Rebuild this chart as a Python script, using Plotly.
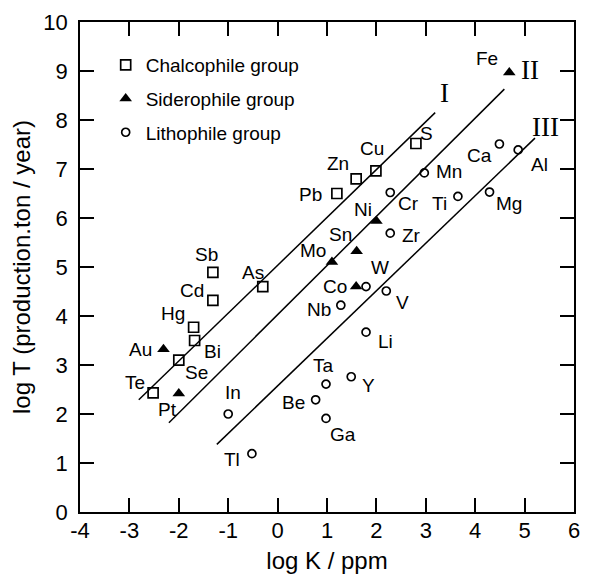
import plotly.graph_objects as go

# Chalcophile group
chalco_names = ["Te", "Se", "Bi", "Hg", "Cd", "Sb", "As", "Pb", "Zn", "Cu", "S"]
chalco_logK = [-2.52, -2.00, -1.68, -1.70, -1.31, -1.31, -0.30, 1.20, 1.59, 1.99, 2.80]
chalco_logT = [2.43, 3.10, 3.50, 3.77, 4.32, 4.89, 4.60, 6.50, 6.80, 6.96, 7.52]

# Siderophile group
sidero_names = ["Au", "Pt", "Mo", "Sn", "Ni", "Co", "Fe"]
sidero_logK = [-2.31, -2.00, 1.10, 1.60, 2.00, 1.59, 4.69]
sidero_logT = [3.32, 2.42, 5.10, 5.32, 5.94, 4.60, 8.97]

# Lithophile group
litho_names = ["Tl", "In", "Be", "Ga", "Ta", "Y", "Li", "Nb", "W", "V",
               "Zr", "Cr", "Mn", "Ti", "Ca", "Al", "Mg"]
litho_logK = [-0.52, -1.00, 0.77, 0.98, 0.98, 1.49, 1.79, 1.28, 1.79, 2.20,
              2.28, 2.28, 2.97, 3.65, 4.49, 4.87, 4.29]
litho_logT = [1.19, 2.00, 2.29, 1.91, 2.61, 2.76, 3.67, 4.22, 4.60, 4.51,
              5.69, 6.52, 6.92, 6.44, 7.51, 7.39, 6.53]

# Trend lines I, II, III (end points)
line_names = ["I", "II", "III"]
line_logK = [[-2.81, 3.19], [-2.20, 4.59], [-1.23, 5.21]]
line_logT = [[2.29, 8.15], [1.82, 8.63], [1.38, 7.63]]

# Tick values and their labels (plain hyphen as minus sign)
x_ticks = [-4, -3, -2, -1, 0, 1, 2, 3, 4, 5, 6]
x_tick_labels = ["-4", "-3", "-2", "-1", "0", "1", "2", "3", "4", "5", "6"]
y_ticks = [0, 1, 2, 3, 4, 5, 6, 7, 8, 9, 10]
y_tick_labels = ["0", "1", "2", "3", "4", "5", "6", "7", "8", "9", "10"]

# Pixel offsets of each element label from its marker
label_shift = {
    "Te": (-18, 10), "Se": (18, -12), "Bi": (18, -11), "Hg": (-21, 14),
    "Cd": (-21, 10), "Sb": (-6, 18), "As": (-10, 14), "Pb": (-26, -1),
    "Zn": (-18, 15), "Cu": (-4, 22), "S": (11, 10),
    "Au": (-23, 0), "Pt": (-11, -16), "Mo": (-19, 12), "Sn": (-16, 17),
    "Ni": (-13, 11), "Co": (-21, 0), "Fe": (-22, 14),
    "Tl": (-20, -6), "In": (5, 22), "Be": (-22, -3), "Ga": (17, -16),
    "Ta": (-3, 19), "Y": (17, -9), "Li": (19, -9), "Nb": (-22, -4),
    "W": (14, 19), "V": (16, -11), "Zr": (21, -2), "Cr": (18, -11),
    "Mn": (25, 1), "Ti": (-18, -7), "Ca": (-20, -11), "Al": (21, -15),
    "Mg": (19, -11),
}
# Pixel offsets of the roman numerals from the upper end of each line
numeral_shift = {"I": (9, 20), "II": (26, 19), "III": (11, 11)}

SANS = "Liberation Sans, Arial, Helvetica, sans-serif"
SERIF = "Liberation Serif, Times New Roman, serif"

fig = go.Figure()

for lk, lt in zip(line_logK, line_logT):
    fig.add_trace(go.Scatter(x=lk, y=lt, mode="lines",
                             line=dict(color="black", width=1.5),
                             showlegend=False, hoverinfo="skip"))

groups = [
    ("Chalcophile group", chalco_names, chalco_logK, chalco_logT,
     dict(symbol="square-open", size=10, color="black", line=dict(width=1.7))),
    ("Siderophile group", sidero_names, sidero_logK, sidero_logT,
     dict(symbol="triangle-up", size=11, color="black", line=dict(width=0))),
    ("Lithophile group", litho_names, litho_logK, litho_logT,
     dict(symbol="circle-open", size=8, color="black", line=dict(width=1.7))),
]

annotations = []
for i, (gname, names, xs, ys, marker) in enumerate(groups):
    fig.add_trace(go.Scatter(x=xs, y=ys, mode="markers", name=gname,
                             marker=marker, legendgroup=f"g{i}"))
    for n, x, y in zip(names, xs, ys):
        dx, dy = label_shift[n]
        annotations.append(dict(x=x, y=y, text=n, showarrow=False,
                                xshift=dx, yshift=dy,
                                xanchor="center", yanchor="middle",
                                font=dict(family=SANS, size=19, color="black")))

for name, lk, lt in zip(line_names, line_logK, line_logT):
    dx, dy = numeral_shift[name]
    annotations.append(dict(x=lk[1], y=lt[1], text=name, showarrow=False,
                            xshift=dx, yshift=dy,
                            xanchor="center", yanchor="middle",
                            font=dict(family=SERIF, size=27, color="black")))

axis_common = dict(
    showline=True, linecolor="black", linewidth=1.5, mirror="ticks",
    ticks="inside", ticklen=14, tickwidth=1.5, tickcolor="black",
    showgrid=False, zeroline=False, automargin=False,
    tickfont=dict(family=SANS, size=22, color="black"),
)

fig.update_layout(
    width=589, height=577,
    margin=dict(l=80, r=15, t=22, b=65),
    plot_bgcolor="white", paper_bgcolor="white",
    annotations=annotations,
    xaxis=dict(range=[-4, 6], tickvals=x_ticks, ticktext=x_tick_labels,
               ticklabelstandoff=-2, **axis_common,
               title=dict(text="log K / ppm", standoff=10,
                          font=dict(family=SANS, size=24, color="black"))),
    yaxis=dict(range=[0, 10], tickvals=y_ticks, ticktext=y_tick_labels,
               ticklabelstandoff=6, **axis_common,
               title=dict(text="log T (production.ton / year)", standoff=6,
                          font=dict(family=SANS, size=24, color="black"))),
    legend=dict(x=0.052, y=0.951, xanchor="left", yanchor="top",
                bgcolor="rgba(0,0,0,0)", tracegroupgap=6,
                font=dict(family=SANS, size=19, color="black")),
    showlegend=True,
)

fig.write_html("out.html")
